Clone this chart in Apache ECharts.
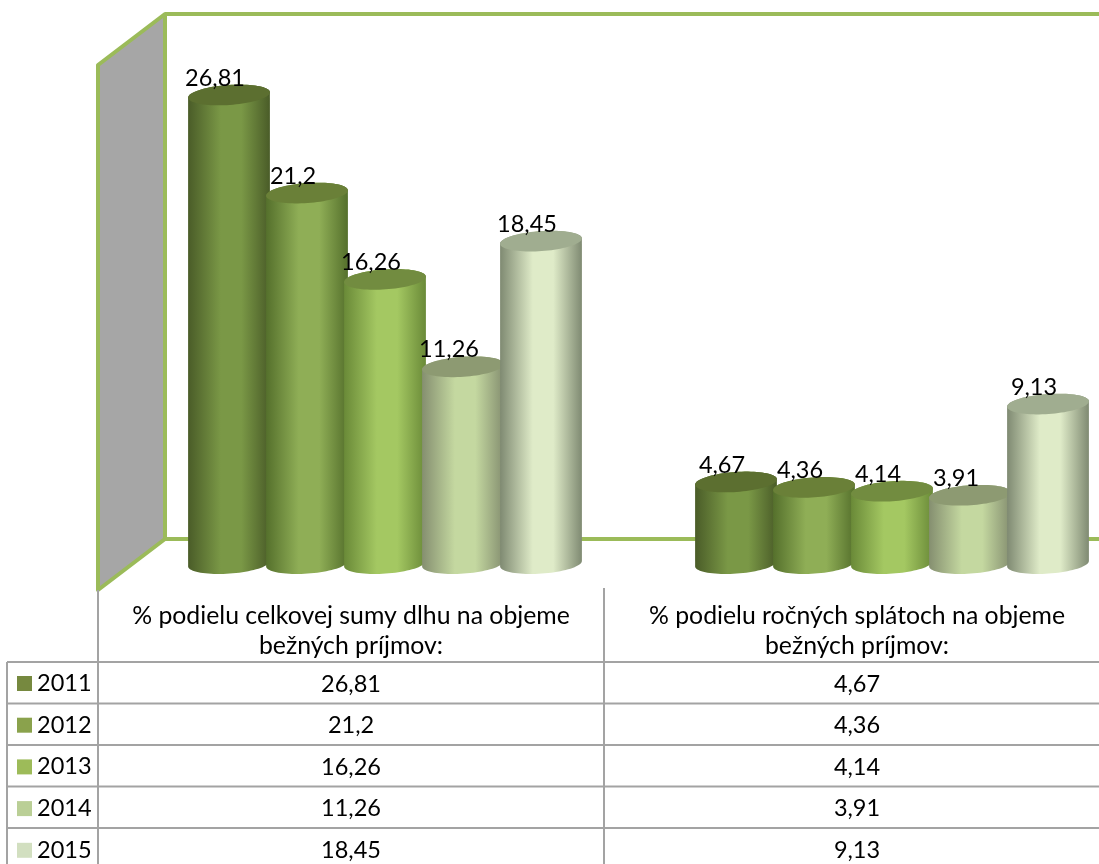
<!DOCTYPE html>
<html><head><meta charset="utf-8">
<style>html,body{margin:0;padding:0;background:#fff}#c{width:1099px;height:864px}</style>
<script src="https://cdn.jsdelivr.net/npm/echarts@6/dist/echarts.min.js"></script>
</head><body><div id="c"></div>
<script>
const categories = ['% podielu celkovej sumy dlhu na objeme\nbežných príjmov:', '% podielu ročných splátoch na objeme\nbežných príjmov:'];
const years = ['2011', '2012', '2013', '2014', '2015'];
const v2011 = [26.81, 4.67];
const v2012 = [21.2, 4.36];
const v2013 = [16.26, 4.14];
const v2014 = [11.26, 3.91];
const v2015 = [18.45, 9.13];
const values = [v2011, v2012, v2013, v2014, v2015];

const legendColors = ['#76893f', '#8aa24c', '#9dbb59', '#bacf96', '#d2dfc0'];
const sideEdge = ['#4a5c28', '#55702c', '#6a8a38', '#858f70', '#7f8a72'];
const sideMid = ['#7a9846', '#8fae56', '#a4c862', '#c4d8a0', '#dfebc8'];
const topFill = ['#5c6f30', '#6a8038', '#728c40', '#8d9a72', '#a0ad90'];

const FONT = 'Lato';
const STEP = 78, A = 41, B = 10, TILT = -4 * Math.PI / 180;
function ell(cx, cy, t) {
  const c = Math.cos(t), s = Math.sin(t);
  return [cx + A * c * Math.cos(TILT) - B * s * Math.sin(TILT),
          cy + A * c * Math.sin(TILT) + B * s * Math.cos(TILT)];
}
function fmt(v) { return String(v).replace('.', ','); }

function makeSeries(si) {
  return {
    name: years[si], type: 'custom', coordinateSystem: 'cartesian2d',
    itemStyle: { color: legendColors[si] },
    data: values[si].map((v, i) => [i, v]),
    encode: { x: 0, y: 1 },
    clip: false,
    renderItem: function (params, api) {
      const base = api.coord([api.value(0), 0]);
      const top = api.coord([api.value(0), api.value(1)]);
      const cx = base[0] + (si - 2) * STEP;
      const body = [], cap = [];
      for (let k = 0; k <= 40; k++) body.push(ell(cx, top[1], Math.PI + Math.PI * k / 40));
      for (let k = 0; k <= 40; k++) body.push(ell(cx, base[1], Math.PI * k / 40));
      for (let k = 0; k < 80; k++) cap.push(ell(cx, top[1], 2 * Math.PI * k / 80));
      const grad = new echarts.graphic.LinearGradient(0, 0, 1, 0, [
        { offset: 0, color: sideEdge[si] }, { offset: 0.4, color: sideMid[si] },
        { offset: 0.65, color: sideMid[si] }, { offset: 1, color: sideEdge[si] }]);
      return { type: 'group', children: [
        { type: 'polygon', z2: 10 + si, shape: { points: body }, style: { fill: grad } },
        { type: 'polygon', z2: 10 + si, shape: { points: cap }, style: { fill: topFill[si] } },
        { type: 'text', z2: 100, style: { text: fmt(api.value(1)), x: cx - 14, y: top[1] - 17,
            align: 'center', verticalAlign: 'middle', font: '23.5px ' + FONT, fill: '#000' } }
      ]};
    }
  };
}

const G = '#9bbb59', L = '#a3a3a3';
const rowY = [662, 703.5, 745, 786.5, 828];
const colC = [351, 857];
const gfx = [];
function line(x1, y1, x2, y2, stroke, w) {
  gfx.push({ type: 'line', z: -1, shape: { x1, y1, x2, y2 }, style: { stroke, lineWidth: w } });
}
function text(t, x, y, size) {
  gfx.push({ type: 'text', z: 5, style: { text: t, x, y, align: 'center', verticalAlign: 'middle',
    font: size + 'px ' + FONT, fill: '#000', lineHeight: 30 } });
}
gfx.push({ type: 'polygon', z: -1, shape: { points: [[98, 65], [165, 14], [165, 539], [98, 590]] },
  style: { fill: '#a6a6a6', stroke: G, lineWidth: 4, lineJoin: 'round' } });
line(165, 14, 1099, 14, G, 4);
line(165, 539, 1099, 539, G, 4);
line(98, 590, 98, 864, L, 2);
line(604, 588, 604, 864, L, 2);
line(7, 662, 7, 864, L, 2);
rowY.forEach(y => line(7, y, 1099, y, L, 2));
categories.forEach((c, i) => {
  text(c, colC[i], 631, 24.8);
  values.forEach((arr, r) => text(fmt(arr[i]), colC[i], rowY[r] + 22, 23.5));
});

const chart = echarts.init(document.getElementById('c'), null, { renderer: 'canvas' });
chart.setOption({
  animation: false,
  backgroundColor: '#fff',
  grid: { left: 131.5, width: 1014, top: 39.2, height: 524.4, outerBoundsMode: 'none' },
  xAxis: { type: 'category', data: categories, show: false },
  yAxis: { type: 'value', min: 0, max: 30, show: false },
  legend: { orient: 'vertical', left: 17, top: 671.5, padding: 0, height: 200, itemWidth: 15, itemHeight: 15, itemGap: 17.7,
    icon: 'rect', selectedMode: false, data: years, itemStyle: { borderWidth: 0 },
    textStyle: { fontFamily: FONT, fontSize: 23.5, color: '#000', padding: [0, 0, 0, 0] } },
  graphic: gfx,
  series: years.map((y, i) => makeSeries(i))
});
</script></body></html>
